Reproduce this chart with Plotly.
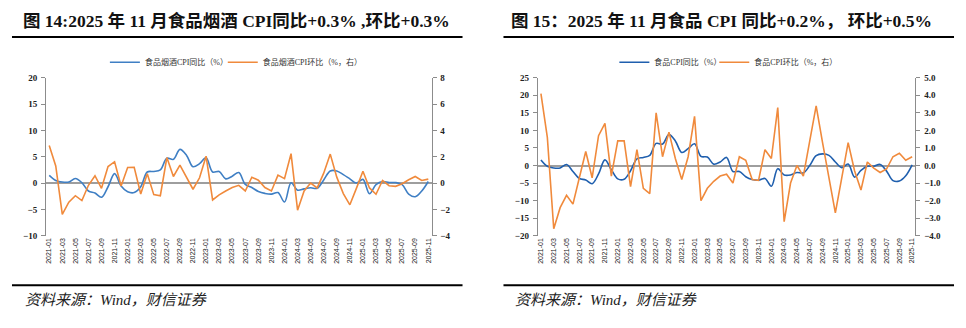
import plotly.graph_objects as go

# ---------------- data ----------------
months = [f"{y}-{m:02d}" for y in range(2021, 2026) for m in range(1, 13)][:59]

# Chart 14: food, tobacco & alcohol CPI
fta_yoy = [1.47, 0.5, 0.2, 0.2, 0.86, 0.06, -1.5, -1.9, -2.7, -0.7, 1.8, -0.55,
           -1.65, -1.8, -0.7, 2.1, 2.2, 2.5, 4.7, 4.5, 6.4, 5.3, 3.1, 3.7,
           4.8, 2.1, 2.2, 0.8, 1.3, 2.0, -0.25, -0.85, -1.6, -1.96, -2.1, -1.8,
           -3.6, 0.06, -1.35, -1.1, -0.9, -1.0, 0.6, 2.3, 2.3, 1.6, 0.8, 0.0,
           0.7, -2.0, -0.3, 0.3, 0.1, 0.1, -0.3, -2.1, -2.6, -1.5, 0.3]
fta_mom = [2.85, 1.3, -2.38, -1.45, -0.96, -1.33, -0.17, 0.56, -0.4, 1.25, 1.62, -0.22,
           1.18, 1.2, -0.83, 0.71, -0.88, -0.96, 1.94, 0.5, 1.37, 0.44, -0.47, 0.4,
           2.04, -1.28, -0.9, -0.6, -0.34, -0.17, -0.6, 0.44, 0.22, -0.34, -0.6, 0.6,
           0.34, 2.23, -2.06, -0.6, 0.0, -0.37, 0.75, 2.2, 0.45, -0.8, -1.65, -0.4,
           0.9, -0.37, -0.85, 0.2, -0.2, -0.25, -0.05, 0.25, 0.5, 0.2, 0.3]

# Chart 15: food CPI
food_yoy = [1.6, -0.2, -0.7, -0.7, 0.3, -1.7, -3.7, -4.1, -5.2, -2.4, 1.6, -1.2,
            -3.8, -3.9, -1.5, 1.9, 2.3, 2.9, 6.3, 6.1, 8.8, 7.0, 3.7, 4.8,
            6.2, 2.6, 2.4, 0.4, 1.0, 2.3, -1.7, -1.7, -3.2, -4.0, -4.2, -3.7,
            -5.9, -0.9, -2.7, -2.7, -2.0, -2.1, 0.0, 2.8, 3.3, 2.9, 1.0, -0.6,
            0.4, -3.3, -1.4, -0.2, -0.2, 0.3, -1.6, -4.3, -4.4, -2.9, 0.2]
food_mom = [4.1, 1.6, -3.6, -2.4, -1.7, -2.2, -0.7, 0.8, -0.7, 1.7, 2.4, -0.6,
            1.4, 1.4, -1.2, 0.9, -1.3, -1.6, 3.0, 0.5, 1.9, 0.4, -0.8, 0.5,
            2.8, -2.0, -1.3, -0.9, -0.6, -0.5, -1.0, 0.5, 0.3, -0.8, -0.85, 0.9,
            0.4, 3.3, -3.2, -1.0, 0.0, -0.6, 1.4, 3.4, 1.3, -0.7, -2.7, -0.7,
            1.3, -0.3, -1.4, 0.2, -0.15, -0.4, -0.2, 0.5, 0.7, 0.3, 0.5]

names_left = ["食品烟酒CPI同比（%）", "食品烟酒CPI环比（%，右）"]
names_right = ["食品CPI同比（%）", "食品CPI环比（%，右）"]
title_left = "图 14:2025 年 11 月食品烟酒 CPI同比+0.3% ,环比+0.3%"
title_right = "图 15：2025 年 11 月食品 CPI 同比+0.2%， 环比+0.5%"
source_text = "资料来源：Wind，财信证券"

# ---------------- layout helpers ----------------
W, H = 966, 328
def fx(x): return x / W
def fy(y): return 1 - y / H

idx = list(range(len(months)))
tickpos = idx[::2]
ticklab = months[::2]
minor_ticks = [i + 1.5 for i in range(0, len(months) - 1, 2)]

ydom = [fy(238), fy(75)]
SERIF = "Liberation Serif, Times New Roman, Noto Sans CJK SC"
CJK = "Liberation Serif, Noto Sans CJK SC"
BLUE_L = "#3f7fc4"
BLUE_R = "#1f5fae"
ORANGE = "#f08a3c"
AX = "#8c8c8c"

fig = go.Figure()
fig.add_trace(go.Scatter(x=idx, y=fta_yoy, name=names_left[0], mode="lines",
                         line=dict(color=BLUE_L, width=1.6, shape="spline", smoothing=1),
                         xaxis="x", yaxis="y", legend="legend"))
fig.add_trace(go.Scatter(x=idx, y=fta_mom, name=names_left[1], mode="lines",
                         line=dict(color=ORANGE, width=1.6),
                         xaxis="x", yaxis="y2", legend="legend2"))
fig.add_trace(go.Scatter(x=idx, y=food_yoy, name=names_right[0], mode="lines",
                         line=dict(color=BLUE_R, width=1.6, shape="spline", smoothing=1),
                         xaxis="x2", yaxis="y3", legend="legend3"))
fig.add_trace(go.Scatter(x=idx, y=food_mom, name=names_right[1], mode="lines",
                         line=dict(color=ORANGE, width=1.6),
                         xaxis="x2", yaxis="y4", legend="legend4"))

ytickfont = dict(family=SERIF, size=9, color="#222", weight="bold")
xtickfont = dict(family="Liberation Sans, Arial", size=7, color="#222")

def xaxis(dom, anchor):
    return dict(domain=dom, anchor=anchor, range=[-0.5, len(months) - 0.5],
                tickmode="array", tickvals=tickpos, ticktext=ticklab, tickangle=-90,
                tickfont=xtickfont, ticks="", showline=False, showgrid=False,
                zeroline=False)

def yaxis(rng, dtick, side, anchor, overlay=None, zero=False, fmt=None):
    d = dict(range=rng, dtick=dtick, tick0=0, side=side, anchor=anchor,
             ticks="outside", ticklen=4, tickcolor=AX, showline=True,
             linecolor=AX, linewidth=1, showgrid=False, tickfont=ytickfont,
             zeroline=zero, zerolinecolor="#9e9e9e", zerolinewidth=2,
             ticklabelstandoff=2)
    if overlay:
        d["overlaying"] = overlay
    else:
        d["domain"] = ydom
    if fmt:
        d["tickformat"] = fmt
    return d

def tick_axis(overlay, rng):
    pos = ydom[0] + (ydom[1] - ydom[0]) * (0 - rng[0]) / (rng[1] - rng[0])
    return dict(overlaying=overlay, anchor="free", position=pos,
                range=[-0.5, len(months) - 0.5], tickmode="array",
                tickvals=minor_ticks, ticks="outside", ticklen=3, tickwidth=1,
                tickcolor="#9e9e9e", showticklabels=False, showline=False,
                showgrid=False, zeroline=False)

def legend_at(xpx):
    return dict(orientation="h", x=fx(xpx), y=fy(59), xanchor="left",
                yanchor="middle", font=dict(family=CJK, size=8, color="#333"),
                itemwidth=30, bgcolor="rgba(0,0,0,0)", tracegroupgap=0)

fig.update_layout(
    width=W, height=H, margin=dict(l=0, r=0, t=0, b=0),
    paper_bgcolor="white", plot_bgcolor="white",
    xaxis=xaxis([fx(45), fx(431)], "y"),
    xaxis2=xaxis([fx(537.3), fx(915.3)], "y3"),
    xaxis3=tick_axis("x", [-10, 20]),
    xaxis4=tick_axis("x2", [-20, 25]),
    yaxis=yaxis([-10, 20], 5, "left", "x", zero=True),
    yaxis2=yaxis([-4, 8], 2, "right", "x", overlay="y"),
    yaxis3=yaxis([-20, 25], 5, "left", "x2", zero=True),
    yaxis4=yaxis([-4, 5], 1, "right", "x2", overlay="y3", fmt=".1f"),
    legend=legend_at(104),
    legend2=legend_at(222),
    legend3=legend_at(614),
    legend4=legend_at(714),
    showlegend=True,
)

# titles
for txt, cx in [(title_left, 236), (title_right, 721)]:
    fig.add_annotation(text=txt, x=fx(cx), y=fy(17), xref="paper", yref="paper",
                       showarrow=False, xanchor="center", yanchor="middle",
                       font=dict(family=CJK, size=17.5, color="#111", weight="bold"))
# source
for sx in [22, 513]:
    fig.add_annotation(text=source_text, x=fx(sx), y=fy(304), xref="paper", yref="paper",
                       showarrow=False, xanchor="left", yanchor="middle",
                       font=dict(family=CJK, size=15, color="#222", style="italic"))
# rules
for x0, x1 in [(11, 462), (503, 954)]:
    for yy in [33, 289]:
        fig.add_shape(type="line", xref="paper", yref="paper",
                      x0=fx(x0), x1=fx(x1), y0=fy(yy), y1=fy(yy),
                      line=dict(color="#000", width=2))

fig.write_html("out.html")
